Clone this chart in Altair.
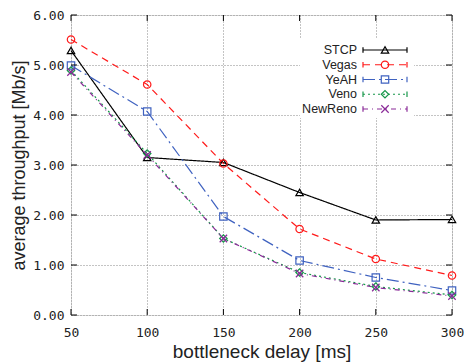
import altair as alt
import pandas as pd

delays = [50, 100, 150, 200, 250, 300]
series = ["STCP", "Vegas", "YeAH", "Veno", "NewReno"]
stcp = [5.29, 3.15, 3.05, 2.45, 1.90, 1.91]
vegas = [5.51, 4.61, 3.03, 1.72, 1.12, 0.79]
yeah = [4.99, 4.07, 1.97, 1.09, 0.75, 0.49]
veno = [4.89, 3.23, 1.53, 0.85, 0.57, 0.40]
newreno = [4.86, 3.20, 1.53, 0.83, 0.55, 0.38]
y_ticks = [0, 1, 2, 3, 4, 5, 6]
x_ticks = [50, 100, 150, 200, 250, 300]

colors = ["#000000", "#ff1a1a", "#3f62c0", "#16974a", "#8a2a98"]
dashes = [[1, 0], [7, 5], [12, 4, 2, 4], [2, 3], [5, 4, 1, 4]]
shapes = ["triangle-up", "circle", "square", "diamond", "M-1,-1L1,1M1,-1L-1,1"]

rows = []
for name, vals in zip(series, [stcp, vegas, yeah, veno, newreno]):
    for d, v in zip(delays, vals):
        rows.append({"series": name, "delay": d, "thr": v})
df = pd.DataFrame(rows)
leg = pd.DataFrame({"series": series, "rank": list(range(len(series)))})

xs = alt.Scale(domain=[50, 300], nice=False)
ys = alt.Scale(domain=[0, 6], nice=False)
col = alt.Color("series:N", scale=alt.Scale(domain=series, range=colors), legend=None)
dash = alt.StrokeDash("series:N", scale=alt.Scale(domain=series, range=dashes), legend=None)
shp = alt.Shape("series:N", scale=alt.Scale(domain=series, range=shapes), legend=None)

mono = "DejaVu Sans Mono"
sans = "Liberation Sans"

base = alt.Chart(df)
lines = base.mark_line(strokeWidth=1.2).encode(
    x=alt.X("delay:Q", scale=xs,
            axis=alt.Axis(values=x_ticks, title="bottleneck delay [ms]", format="d",
                          grid=True, gridDash=[1, 2], gridColor="#888", gridWidth=1,
                          ticks=False, domain=False, labelFont=mono, labelFontSize=13,
                          labelColor="#222", labelPadding=11, labelFlush=False,
                          titleFont=sans, titleFontSize=19, titleFontWeight="normal",
                          titleColor="#222", titlePadding=3)),
    y=alt.Y("thr:Q", scale=ys,
            axis=alt.Axis(values=y_ticks, title="average throughput [Mb/s]", format=".2f",
                          grid=True, gridDash=[1, 2], gridColor="#888", gridWidth=1,
                          ticks=False, domain=False, labelFont=mono, labelFontSize=13,
                          labelColor="#222", labelPadding=7, labelFlush=False,
                          titleFont=sans, titleFontSize=18, titleFontWeight="normal",
                          titleColor="#222", titlePadding=4)),
    color=col, strokeDash=dash, detail="series:N",
)
points = base.mark_point(filled=False, size=55, strokeWidth=1.2, opacity=1).encode(
    x=alt.X("delay:Q", scale=xs), y=alt.Y("thr:Q", scale=ys), color=col, shape=shp,
)

tdf = pd.DataFrame({"v": y_ticks})
xdf = pd.DataFrame({"v": x_ticks})
lt = alt.Chart(tdf).mark_rule(color="black").encode(
    y=alt.Y("v:Q", scale=ys), x=alt.value(0), x2=alt.value(6))
rt = alt.Chart(tdf).mark_rule(color="black").encode(
    y=alt.Y("v:Q", scale=ys), x=alt.value(381), x2=alt.value(375))
bt = alt.Chart(xdf).mark_rule(color="black").encode(
    x=alt.X("v:Q", scale=xs), y=alt.value(300), y2=alt.value(294))
tt = alt.Chart(xdf).mark_rule(color="black").encode(
    x=alt.X("v:Q", scale=xs), y=alt.value(0), y2=alt.value(6))

bg = alt.Chart(leg).mark_rect(color="white").encode(
    x=alt.value(229), x2=alt.value(343), y=alt.value(24), y2=alt.value(103))

lb = alt.Chart(leg).transform_calculate(ly="5.30 - 0.295 * datum.rank")
ltext = lb.mark_text(align="right", baseline="middle", font=sans, fontSize=12.5,
                     color="#222").encode(
    x=alt.value(286), y=alt.Y("ly:Q", scale=ys), text="series:N")
lline = lb.mark_rule(strokeWidth=1.2).encode(
    x=alt.value(292), x2=alt.value(336), y=alt.Y("ly:Q", scale=ys),
    color=col, strokeDash=dash)
lpt = lb.mark_point(filled=False, size=55, strokeWidth=1.2, opacity=1).encode(
    x=alt.value(314), y=alt.Y("ly:Q", scale=ys), color=col, shape=shp)
lend1 = lb.mark_point(shape="M0,-1L0,1", size=30, strokeWidth=1.2, opacity=1,
                      filled=False).encode(
    x=alt.value(292), y=alt.Y("ly:Q", scale=ys), color=col)
lend2 = lb.mark_point(shape="M0,-1L0,1", size=30, strokeWidth=1.2, opacity=1,
                      filled=False).encode(
    x=alt.value(336), y=alt.Y("ly:Q", scale=ys), color=col)

chart = alt.layer(lines, points, lt, rt, bt, tt, bg, ltext, lline, lpt, lend1, lend2).properties(
    width=381, height=300, autosize=alt.AutoSizeParams(type="none"),
    padding={"left": 71, "top": 15, "right": 12, "bottom": 49},
).configure_view(stroke="black", strokeWidth=1.2).configure(background="white")

chart.save("out.html", embed_options={"renderer": "svg", "actions": False})
